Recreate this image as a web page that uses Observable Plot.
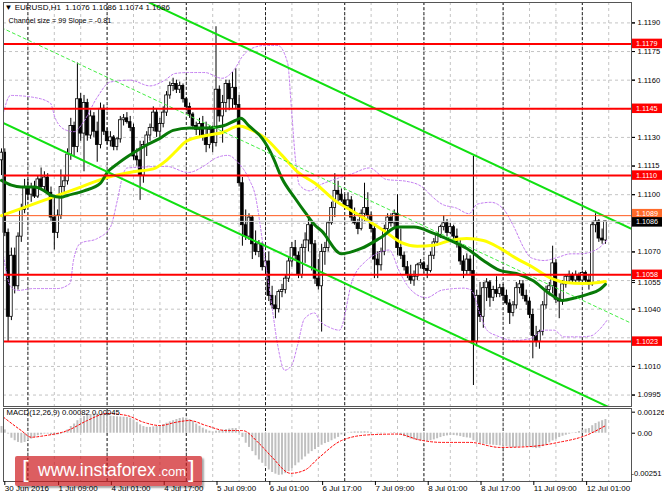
<!DOCTYPE html>
<html><head><meta charset="utf-8">
<script src="https://cdn.jsdelivr.net/npm/d3@7"></script>
<script src="https://cdn.jsdelivr.net/npm/@observablehq/plot@0.6"></script>
<style>
body{margin:0;background:#fff;}
#wrap{position:relative;width:664px;height:498px;overflow:hidden;font-family:"Liberation Sans",Arial,sans-serif;}
#wrap svg{position:absolute;left:0;}
.wm{position:absolute;left:15px;top:456px;width:187px;height:30px;background:rgba(205,25,30,0.70);border-radius:2px;box-shadow:2px 2px 2px rgba(0,0,0,0.35);color:#fff;white-space:nowrap;}
.wm span{position:absolute;font-family:"Liberation Sans",Arial,sans-serif;}
</style></head><body><div id="wrap"></div>
<script>
// ---------- DATA ----------
const symbolTitle = "▼ EURUSD,H1  1.1076 1.1086 1.1074 1.1086";
const channelTitle = "Channel size = 99 Slope = -0.81";
const macdTitle = "MACD(12,26,9) 0.00082 0.00045";

// H1 candles, bar 0 = 30 Jun 2016 16:00
const open = [1.1118,1.1122,1.1080,1.1036,1.1068,1.1052,1.1078,1.1092,1.1104,1.1100,
1.1104,1.1099,1.1108,1.1104,1.1109,1.1101,1.1088,1.1080,1.1089,1.1104,
1.1107,1.1121,1.1136,1.1125,1.1150,1.1132,1.1148,1.1131,1.1141,1.1133,
1.1126,1.1145,1.1133,1.1128,1.1130,1.1125,1.1129,1.1139,1.1140,1.1138,
1.1135,1.1120,1.1118,1.1110,1.1126,1.1131,1.1135,1.1143,1.1133,1.1137,
1.1143,1.1152,1.1157,1.1158,1.1155,1.1157,1.1150,1.1146,1.1142,1.1136,
1.1134,1.1137,1.1131,1.1126,1.1134,1.1127,1.1155,1.1141,1.1148,1.1158,
1.1150,1.1156,1.1147,1.1106,1.1084,1.1078,1.1088,1.1074,1.1070,1.1074,
1.1062,1.1065,1.1047,1.1042,1.1040,1.1049,1.1050,1.1056,1.1065,1.1072,
1.1068,1.1058,1.1072,1.1076,1.1084,1.1074,1.1056,1.1052,1.1070,1.1072,
1.1085,1.1093,1.1102,1.1100,1.1097,1.1094,1.1097,1.1088,1.1085,1.1082,
1.1090,1.1093,1.1089,1.1082,1.1066,1.1063,1.1070,1.1082,1.1088,1.1085,
1.1090,1.1072,1.1068,1.1062,1.1058,1.1055,1.1057,1.1063,1.1064,1.1061,
1.1060,1.1068,1.1075,1.1079,1.1083,1.1085,1.1080,1.1083,1.1078,1.1074,
1.1065,1.1060,1.1066,1.1060,1.1023,1.1047,1.1036,1.1051,1.1054,1.1046,
1.1050,1.1048,1.1051,1.1047,1.1043,1.1038,1.1042,1.1051,1.1053,1.1047,
1.1044,1.1037,1.1026,1.1023,1.1028,1.1042,1.1050,1.1052,1.1064,1.1045,
1.1044,1.1053,1.1057,1.1058,1.1055,1.1058,1.1055,1.1059,1.1055,1.1053,
1.1084,1.1086,1.1077,1.1076];
const high = [1.1124,1.1124,1.1082,1.1072,1.1072,1.1080,1.1095,1.1108,1.1108,1.1106,
1.1107,1.1110,1.1114,1.1112,1.1111,1.1104,1.1098,1.1092,1.1113,1.1110,
1.1124,1.1140,1.1138,1.1169,1.1153,1.1152,1.1150,1.1145,1.1143,1.1138,
1.1148,1.1147,1.1135,1.1133,1.1131,1.1130,1.1141,1.1142,1.1143,1.1141,
1.1137,1.1124,1.1128,1.1128,1.1133,1.1137,1.1146,1.1145,1.1140,1.1146,
1.1154,1.1159,1.1161,1.1160,1.1159,1.1158,1.1151,1.1148,1.1143,1.1138,
1.1140,1.1141,1.1138,1.1136,1.1136,1.1188,1.1157,1.1152,1.1160,1.1160,
1.1164,1.1166,1.1152,1.1109,1.1092,1.1090,1.1089,1.1081,1.1076,1.1075,
1.1068,1.1070,1.1052,1.1047,1.1050,1.1053,1.1058,1.1067,1.1075,1.1076,
1.1070,1.1074,1.1080,1.1088,1.1086,1.1076,1.1066,1.1074,1.1075,1.1086,
1.1096,1.1111,1.1107,1.1103,1.1100,1.1101,1.1099,1.1093,1.1087,1.1092,
1.1106,1.1101,1.1091,1.1084,1.1070,1.1072,1.1084,1.1090,1.1090,1.1092,
1.1100,1.1082,1.1070,1.1065,1.1063,1.1060,1.1064,1.1066,1.1065,1.1063,
1.1070,1.1077,1.1080,1.1084,1.1089,1.1087,1.1085,1.1084,1.1082,1.1076,
1.1068,1.1069,1.1068,1.1120,1.1050,1.1054,1.1054,1.1056,1.1055,1.1052,
1.1057,1.1053,1.1053,1.1050,1.1045,1.1044,1.1054,1.1055,1.1055,1.1050,
1.1046,1.1040,1.1031,1.1029,1.1044,1.1052,1.1054,1.1073,1.1066,1.1048,
1.1055,1.1058,1.1060,1.1059,1.1060,1.1059,1.1060,1.1060,1.1058,1.1086,
1.1090,1.1087,1.1082,1.1086];
const low = [1.1110,1.1078,1.1023,1.1034,1.1048,1.1050,1.1075,1.1090,1.1097,1.1096,
1.1098,1.1098,1.1103,1.1102,1.1100,1.1086,1.1071,1.1077,1.1087,1.1101,
1.1105,1.1118,1.1120,1.1122,1.1128,1.1112,1.1128,1.1129,1.1130,1.1117,
1.1124,1.1131,1.1126,1.1125,1.1123,1.1123,1.1127,1.1136,1.1137,1.1133,
1.1118,1.1115,1.1097,1.1106,1.1120,1.1128,1.1133,1.1130,1.1130,1.1135,
1.1141,1.1150,1.1154,1.1153,1.1153,1.1148,1.1144,1.1140,1.1134,1.1131,
1.1130,1.1128,1.1122,1.1124,1.1122,1.1125,1.1138,1.1127,1.1143,1.1144,
1.1145,1.1145,1.1104,1.1073,1.1076,1.1076,1.1066,1.1068,1.1067,1.1060,
1.1058,1.1044,1.1040,1.1035,1.1038,1.1046,1.1048,1.1054,1.1062,1.1066,
1.1056,1.1056,1.1064,1.1070,1.1060,1.1053,1.1050,1.1028,1.1063,1.1070,
1.1084,1.1088,1.1095,1.1096,1.1092,1.1092,1.1086,1.1084,1.1079,1.1081,
1.1086,1.1087,1.1080,1.1056,1.1056,1.1060,1.1068,1.1079,1.1083,1.1082,
1.1068,1.1066,1.1060,1.1056,1.1053,1.1052,1.1055,1.1061,1.1059,1.1056,
1.1059,1.1066,1.1073,1.1077,1.1081,1.1078,1.1079,1.1076,1.1072,1.1063,
1.1056,1.1058,1.1058,1.1000,1.1021,1.1033,1.1030,1.1044,1.1041,1.1044,
1.1046,1.1046,1.1044,1.1042,1.1032,1.1036,1.1040,1.1048,1.1045,1.1042,
1.1035,1.1014,1.1020,1.1019,1.1026,1.1040,1.1047,1.1048,1.1043,1.1035,
1.1042,1.1051,1.1054,1.1053,1.1053,1.1054,1.1053,1.1053,1.1050,1.1052,
1.1080,1.1075,1.1074,1.1074];
const close = [1.1122,1.1080,1.1036,1.1068,1.1052,1.1078,1.1092,1.1104,1.1100,1.1104,
1.1099,1.1108,1.1104,1.1109,1.1101,1.1088,1.1080,1.1089,1.1104,1.1107,
1.1121,1.1136,1.1125,1.1150,1.1132,1.1148,1.1131,1.1141,1.1133,1.1126,
1.1145,1.1133,1.1128,1.1130,1.1125,1.1129,1.1139,1.1140,1.1138,1.1135,
1.1120,1.1118,1.1110,1.1126,1.1131,1.1135,1.1143,1.1133,1.1137,1.1143,
1.1152,1.1157,1.1158,1.1155,1.1157,1.1150,1.1146,1.1142,1.1136,1.1134,
1.1137,1.1131,1.1126,1.1134,1.1127,1.1155,1.1141,1.1148,1.1158,1.1150,
1.1156,1.1147,1.1106,1.1084,1.1078,1.1088,1.1074,1.1070,1.1074,1.1062,
1.1065,1.1047,1.1042,1.1040,1.1049,1.1050,1.1056,1.1065,1.1072,1.1068,
1.1058,1.1072,1.1076,1.1084,1.1074,1.1056,1.1052,1.1070,1.1072,1.1085,
1.1093,1.1102,1.1100,1.1097,1.1094,1.1097,1.1088,1.1085,1.1082,1.1090,
1.1093,1.1089,1.1082,1.1066,1.1063,1.1070,1.1082,1.1088,1.1085,1.1090,
1.1072,1.1068,1.1062,1.1058,1.1055,1.1057,1.1063,1.1064,1.1061,1.1060,
1.1068,1.1075,1.1079,1.1083,1.1085,1.1080,1.1083,1.1078,1.1074,1.1065,
1.1060,1.1066,1.1060,1.1023,1.1047,1.1036,1.1051,1.1054,1.1046,1.1050,
1.1048,1.1051,1.1047,1.1043,1.1038,1.1042,1.1051,1.1053,1.1047,1.1044,
1.1037,1.1026,1.1023,1.1028,1.1042,1.1050,1.1052,1.1064,1.1045,1.1044,
1.1053,1.1057,1.1058,1.1055,1.1058,1.1055,1.1059,1.1055,1.1053,1.1084,
1.1086,1.1077,1.1076,1.1086];

// moving averages: [bar, price]
const maYellow = [[0,1.1089],[8,1.1094],[16,1.1099],[24,1.1104],[32,1.1109],[40,1.1112],[46,1.11135],[50,1.1118],[53,1.1123],[56,1.1128],[62,1.1131],[67,1.11326],[72,1.1136],[75,1.11345],[80,1.11295],[85,1.11206],[90,1.11115],[95,1.1106],[101,1.1097],[106,1.10917],[111,1.10865],[116,1.1081],[121,1.1075],[126,1.1073],[131,1.10735],[136,1.1076],[141,1.1077],[146,1.1076],[151,1.1072],[156,1.10666],[161,1.1062],[166,1.10567],[171,1.1054],[176,1.10535],[181,1.1054],[183,1.10545]];
const maGreen = [[0,1.11075],[3,1.1105],[6,1.1104],[10,1.1104],[13,1.1102],[15,1.10996],[18,1.10986],[20,1.10996],[25,1.1102],[30,1.1106],[32,1.11116],[35,1.1116],[40,1.1122],[44,1.1126],[48,1.11295],[52,1.11337],[57,1.1135],[62,1.1135],[67,1.1136],[71,1.1139],[72.5,1.1140],[75,1.1136],[79,1.11295],[82,1.11206],[85,1.11085],[89,1.1098],[92,1.10907],[95,1.1084],[97,1.1081],[103,1.1069],[109,1.10718],[115,1.10776],[120,1.1083],[125,1.1083],[131,1.10797],[136,1.1076],[141,1.10718],[146,1.10655],[151,1.10603],[156,1.10587],[161,1.1055],[166,1.10482],[170,1.10446],[174,1.1046],[178,1.1048],[181,1.1050],[183,1.1053]];
// bands (dotted violet)
const bandUpper = [[0.6,1.1143],[2.7,1.1152],[9.7,1.1151],[14.8,1.1148],[16.3,1.1140],[19.3,1.1134],[22,1.1133],[24.8,1.1138],[29,1.1151],[32.9,1.1159],[39,1.1160],[45,1.1157],[49.5,1.1160],[52.6,1.11635],[56.5,1.1164],[61.6,1.1164],[66.8,1.1161],[70.7,1.1166],[72.8,1.1172],[75.8,1.11766],[79.8,1.11782],[83.7,1.11782],[86.7,1.1169],[87.9,1.1144],[89.1,1.1118],[90.3,1.1105],[93.4,1.1102],[96.4,1.1105],[100.9,1.1108],[106.3,1.1111],[111.5,1.1114],[116.6,1.1108],[122.7,1.1107],[127.5,1.1104],[130.5,1.1099],[133.5,1.1095],[137.8,1.1093],[141.7,1.1090],[144.1,1.1095],[148.3,1.1096],[152.3,1.1092],[155.3,1.1083],[158.3,1.1072],[160.4,1.1067],[164.4,1.10655],[168.3,1.1067],[172.5,1.1069],[175.5,1.1069],[178.6,1.1070],[181,1.1072],[183.4,1.1076]];
const bandLower = [[0.6,1.1068],[2.7,1.1052],[4.8,1.10498],[9.7,1.10508],[16.9,1.10508],[20.8,1.10535],[21.8,1.10655],[23.9,1.10745],[29,1.1077],[33,1.1083],[35.1,1.1097],[36.9,1.1111],[38.1,1.1114],[50.1,1.11148],[56.5,1.11116],[61.6,1.11153],[64.7,1.1119],[68.6,1.11206],[71.6,1.1117],[75.2,1.11075],[76.7,1.1101],[79.8,1.10666],[81.9,1.1042],[83.7,1.1021],[85.8,1.1008],[87.9,1.10105],[89.7,1.1021],[91.8,1.1035],[94.9,1.1038],[96.4,1.1034],[99.4,1.10305],[102.4,1.1029],[106.3,1.1055],[110.6,1.10655],[113.6,1.1069],[117.5,1.1071],[120.5,1.1060],[123.6,1.1051],[128.7,1.1046],[133.5,1.1050],[140.2,1.1051],[142.3,1.1050],[145.3,1.1036],[147.1,1.1029],[150.2,1.1026],[155.3,1.10236],[160.4,1.10246],[164.4,1.1029],[167.4,1.1029],[170.4,1.10255],[175.5,1.10255],[178.6,1.1026],[181,1.1029],[183.4,1.1034]];
// regression channel (lime)
const channelUpper = [[0,1.1237],[191,1.1082]];
const channelMiddle = [[0,1.11875],[191,1.10325]];
const channelLower = [[0,1.1138],[191,1.0983]];
// horizontal levels
const levels = [1.1179,1.1145,1.1110,1.1058,1.1023];
const askPrice = 1.1089;
const bidPrice = 1.1086;
// axes: grid levels, and the price labels left visible by the tags
const priceGrid = [1.0995,1.1010,1.1025,1.1040,1.1055,1.1070,1.1085,1.1100,1.1115,1.1130,1.1145,1.1160,1.1175,1.1190];
const priceLabels = [1.0995,1.1010,1.1040,1.1070,1.1100,1.1115,1.1130,1.1160,1.1175,1.1190];
const priceLabelsBelowTag = [1.1055];
const gridBars = [8,16,24,32,40,48,56,64,72,80,88,96,104,112,120,128,136,144,152,160,168,176,184];
const daySeparators = [8,32,56,80,104,128,152,176];
const timeLabelBars = [0.7,17,33,49,65,81,97,113,129,145,161,177];
const timeLabels = ["30 Jun 2016","1 Jul 09:00","4 Jul 01:00","4 Jul 17:00","5 Jul 09:00","6 Jul 01:00","6 Jul 17:00","7 Jul 09:00","8 Jul 01:00","8 Jul 17:00","11 Jul 09:00","12 Jul 01:00"];
// MACD histogram per bar and signal line
const macdMain = [0.0004,0.0002,-0.00005,-0.0003,-0.00045,-0.00055,-0.0006,-0.00055,-0.00045,-0.00035,
-0.00025,-0.00015,-0.0001,-0.00005,-0.00005,-0.0001,-0.00015,-0.0001,-0.00005,0.00005,
0.0002,0.0004,0.00055,0.00075,0.0009,0.001,0.00108,0.00112,0.00115,0.00115,
0.00112,0.00108,0.00105,0.00102,0.001,0.00098,0.00097,0.00096,0.00095,0.0009,
0.0008,0.00065,0.0005,0.0004,0.00035,0.00035,0.00038,0.0004,0.00045,0.00052,
0.0006,0.00068,0.00075,0.00082,0.00088,0.00092,0.0009,0.00082,0.0007,0.00055,
0.00042,0.0003,0.0002,0.00012,0.00008,0.00012,0.00015,0.00018,0.00022,0.00025,
0.00028,0.00028,0.0001,-0.00025,-0.0006,-0.00085,-0.0011,-0.00135,-0.0016,-0.0018,
-0.002,-0.0022,-0.00235,-0.00245,-0.00252,-0.0025,-0.00242,-0.0023,-0.00212,-0.00195,
-0.00178,-0.0016,-0.00142,-0.00125,-0.0011,-0.00098,-0.00085,-0.00072,-0.00062,-0.00055,
-0.00045,-0.00035,-0.00025,-0.0001,-0.00004,0.00002,0.00006,0.00008,0.00008,0.00008,
0.00009,0.00008,0.00005,0,-0.00004,-0.00004,-0.00002,0,0.00002,0.00004,
0,-0.00008,-0.0002,-0.00028,-0.00035,-0.0004,-0.00044,-0.00046,-0.00048,-0.00048,
-0.00045,-0.0004,-0.00033,-0.00026,-0.0002,-0.00016,-0.00014,-0.00014,-0.00016,-0.0002,
-0.00025,-0.00028,-0.0003,-0.00045,-0.00055,-0.00062,-0.00066,-0.00068,-0.0007,-0.00072,
-0.00074,-0.00076,-0.00078,-0.0008,-0.00084,-0.00086,-0.00085,-0.00082,-0.0008,-0.0008,
-0.00082,-0.00088,-0.00092,-0.0009,-0.0008,-0.0007,-0.00058,-0.00046,-0.00036,-0.00026,
-0.00018,-0.00012,-0.00006,-0.00002,0.00004,0.0001,0.00018,0.00024,0.00028,0.00045,
0.00058,0.00067,0.00075,0.00082];
const macdSignal = [[0.6,0.00096],[6,0.00016],[9,-0.00024],[13,-0.00015],[20,0.00016],[26,0.00076],[32,0.00118],[38,0.00106],[43,0.00066],[48,0.00046],[53,0.00066],[57,0.00076],[62,0.00046],[68,0.00016],[73,0.00016],[78,-0.0006],[82,-0.00144],[87.6,-0.0024],[92,-0.0022],[96,-0.0015],[103,-0.00044],[111,-0.0001],[120,-0.00005],[126.6,-0.0004],[133.5,-0.00055],[142,-0.00055],[151,-0.00085],[160,-0.0008],[169,-0.00054],[177,-0.00014],[183,0.00045]];
const macdTicksUpper = [0.00126, 0];
const macdTicksLower = [-0.00251];

// ---------- BUILD ----------
const FONT = "'Liberation Sans', Arial, sans-serif";
const xDomain = [0.606, 190.9];
const candles = open.map((o, i) => ({bar: i, open: o, high: high[i], low: low[i], close: close[i]}));
const up = candles.filter(d => d.close >= d.open);
const down = candles.filter(d => d.close < d.open);
const px = d => d[0], py = d => d[1];

const main = Plot.plot({
  width: 664, height: 407,
  marginLeft: 3, marginRight: 33, marginTop: 2, marginBottom: 1,
  x: {domain: xDomain, axis: null, label: null},
  y: {domain: [1.0989, 1.12007], axis: null, label: null},
  style: {fontFamily: FONT, fontSize: "7.6px", background: "white"},
  marks: [
    Plot.gridY({ticks: priceGrid, stroke: "#c4c4c4", strokeOpacity: 1, strokeDasharray: "3,3"}),
    Plot.gridX({ticks: gridBars, stroke: "#c4c4c4", strokeOpacity: 1, strokeDasharray: "3,3"}),
    Plot.ruleX(daySeparators, {stroke: "#000", strokeDasharray: "3,2", strokeOpacity: 0.85}),
    Plot.ruleX(candles, {x: "bar", y1: "low", y2: "high", stroke: "#000", strokeWidth: 1}),
    Plot.rect(up, {x1: d => d.bar - 0.4, x2: d => d.bar + 0.4, y1: "open", y2: "close", fill: "#fff", stroke: "#000", strokeWidth: 0.8}),
    Plot.rect(down, {x1: d => d.bar - 0.4, x2: d => d.bar + 0.4, y1: "open", y2: "close", fill: "#000", stroke: "#000", strokeWidth: 0.8}),
    Plot.line(bandUpper, {x: px, y: py, stroke: "#c27af0", strokeWidth: 1, strokeDasharray: "2,2", curve: "monotone-x", clip: true}),
    Plot.line(bandLower, {x: px, y: py, stroke: "#c27af0", strokeWidth: 1, strokeDasharray: "2,2", curve: "monotone-x", clip: true}),
    Plot.line(maYellow, {x: px, y: py, stroke: "#ffff00", strokeWidth: 3, curve: "monotone-x"}),
    Plot.line(maGreen, {x: px, y: py, stroke: "#087a08", strokeWidth: 3, curve: "monotone-x"}),
    Plot.line(channelMiddle, {x: px, y: py, stroke: "#44ee44", strokeWidth: 1, strokeDasharray: "3,3", clip: true}),
    Plot.line(channelUpper, {x: px, y: py, stroke: "#11e011", strokeWidth: 2, clip: true}),
    Plot.line(channelLower, {x: px, y: py, stroke: "#11e011", strokeWidth: 2, clip: true}),
    Plot.ruleY(levels, {stroke: "#ff0000", strokeWidth: 2}),
    Plot.ruleY([bidPrice], {stroke: "#c8c8c8", strokeWidth: 1}),
    Plot.ruleY([askPrice], {stroke: "#ff5a1e", strokeWidth: 1}),
    Plot.frame({stroke: "#555"}),
    Plot.axisY({anchor: "right", ticks: priceGrid, tickFormat: () => "", tickSize: 3, tickPadding: 0, label: null}),
    Plot.axisY({anchor: "right", ticks: priceLabels, tickFormat: d3.format(".4f"), tickSize: 3, tickPadding: 3, fontSize: 7.6, label: null}),
    Plot.axisY({anchor: "right", ticks: priceLabelsBelowTag, tickFormat: d3.format(".4f"), tickSize: 3, tickPadding: 3, fontSize: 7.6, label: null, dy: 2}),
    Plot.text([symbolTitle], {text: d => d, frameAnchor: "top-left", dx: 1, dy: 2, lineAnchor: "top", textAnchor: "start", fontSize: 8, fill: "#000"}),
    Plot.text([channelTitle], {text: d => d, frameAnchor: "top-left", dx: 5, dy: 15, lineAnchor: "top", textAnchor: "start", fontSize: 7.2, fill: "#000"})
  ]
});

// price tags on the right scale
const yS = main.scale("y");
const tags = [
  ...levels.map(v => ({v, fill: "#ff0000"})),
  {v: askPrice, fill: "#ff6a2a", dy: -1.5},
  {v: bidPrice, fill: "#000000", dy: 1}
];
const g = d3.select(main).append("g")
  .attr("font-family", FONT).attr("font-size", 7.2).attr("text-anchor", "start");
tags.forEach(t => {
  const y = yS.apply(t.v) + (t.dy || 0);
  g.append("rect").attr("x", 632).attr("y", y - 4.75).attr("width", 30).attr("height", 9.5).attr("fill", t.fill);
  g.append("text").attr("x", 636).attr("y", y).attr("dy", "0.35em").attr("fill", "#fff").text(d3.format(".4f")(t.v));
});

const labelMap = new Map(timeLabelBars.map((b, i) => [b, timeLabels[i]]));
const hist = macdMain.map((v, i) => ({bar: i, v}));
const macdFmt = d => d === 0 ? "0.00" : d.toFixed(5);
const macd = Plot.plot({
  width: 664, height: 91,
  marginLeft: 3, marginRight: 33, marginTop: 1, marginBottom: 17,
  x: {domain: xDomain, axis: null, label: null},
  y: {domain: [-0.00289, 0.00148], axis: null, label: null},
  style: {fontFamily: FONT, fontSize: "7.6px", background: "white"},
  marks: [
    Plot.gridX({ticks: gridBars, stroke: "#c4c4c4", strokeOpacity: 1, strokeDasharray: "3,3"}),
    Plot.ruleX(daySeparators, {stroke: "#000", strokeDasharray: "3,2", strokeOpacity: 0.85}),
    Plot.ruleX(hist, {x: "bar", y1: 0, y2: "v", stroke: "#c0c0c0", strokeWidth: 2}),
    Plot.line(macdSignal, {x: px, y: py, stroke: "#ff0000", strokeWidth: 1, strokeDasharray: "2,2", curve: "monotone-x"}),
    Plot.frame({stroke: "#555"}),
    Plot.axisY({anchor: "right", ticks: macdTicksUpper, tickFormat: macdFmt, tickSize: 3, tickPadding: 3, fontSize: 7.6, label: null}),
    Plot.axisY({anchor: "right", ticks: macdTicksLower, tickFormat: macdFmt, tickSize: 0, tickPadding: 0, fontSize: 7.6, label: null, dy: -2}),
    Plot.axisX({anchor: "bottom", ticks: timeLabelBars, tickFormat: d => labelMap.get(d), tickSize: 4, tickPadding: 0, textAnchor: "start", dx: 1, fontSize: 8, label: null}),
    Plot.text([macdTitle], {text: d => d, frameAnchor: "top-left", dx: 3, dy: 1, lineAnchor: "top", textAnchor: "start", fontSize: 7.7, fill: "#000"})
  ]
});

const wrap = document.getElementById("wrap");
main.style.top = "0px";
macd.style.top = "407px";
wrap.appendChild(main);
wrap.appendChild(macd);

const wm = document.createElement("div");
wm.className = "wm";
wm.innerHTML = '<span style="left:7px;top:-1px;font-size:24px;font-weight:300">[</span>' +
  '<span style="left:23px;top:4px;font-size:17.5px">www.instaforex</span>' +
  '<span style="left:143px;top:8px;font-size:13px">.com</span>' +
  '<span style="left:173px;top:-1px;font-size:24px;font-weight:300">]</span>';
wrap.appendChild(wm);
</script></body></html>
